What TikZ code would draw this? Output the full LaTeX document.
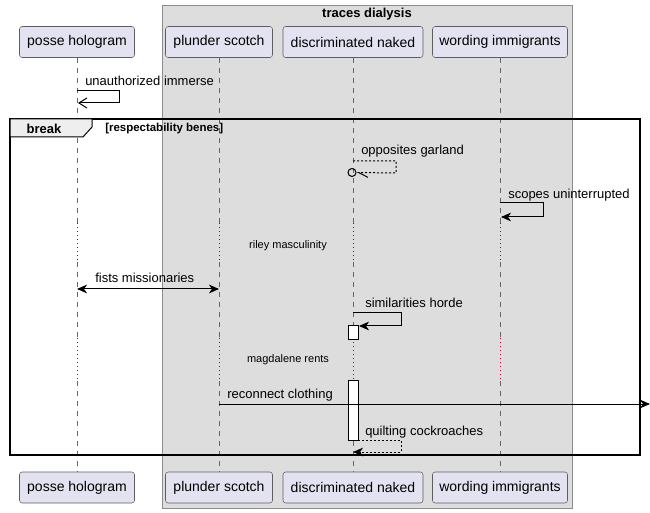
\documentclass[tikz,border=0pt]{standalone}
\usepackage{fontspec}
\setmainfont{Liberation Sans}
\usetikzlibrary{arrows.meta,positioning}
\definecolor{partfill}{HTML}{E2E2F0}
\definecolor{partline}{HTML}{5E5E5E}
\definecolor{boxfill}{HTML}{DDDDDD}
\definecolor{boxline}{HTML}{8C8C8C}
\definecolor{tabfill}{HTML}{EEEEEE}
\definecolor{delayred}{HTML}{A80036}
\definecolor{lifegray}{HTML}{666666}
\tikzset{
	part/.style={draw=partline, fill=partfill, rounded corners=2pt, minimum height=23.25pt, inner sep=0pt, font=\fontsize{10.5}{12}\selectfont},
	lifeline/.style={draw=lifegray, line width=0.6pt, dash pattern=on 3.75pt off 3.75pt},
	delayline/.style={draw=delayred, line width=0.75pt, dash pattern=on 0.8pt off 2.2pt},
	msg/.style={draw=black, line width=0.75pt, -{Stealth[length=7.5pt,width=6.5pt,inset=2.2pt]}},
	bothmsg/.style={draw=black, line width=0.75pt, {Stealth[length=7.5pt,width=6.5pt,inset=2.2pt]}-{Stealth[length=7.5pt,width=6.5pt,inset=2.2pt]}},
	openmsg/.style={draw=black, line width=0.75pt, -{Straight Barb[length=6pt,width=7.5pt]}},
	retmsg/.style={msg, dash pattern=on 1.5pt off 1.5pt},
	msglabel/.style={anchor=base west, inner sep=0pt, font=\fontsize{9.75}{11}\selectfont},
	delaylabel/.style={anchor=center, inner sep=0pt, font=\fontsize{8.25}{10}\selectfont},
	activation/.style={draw=black, fill=white, line width=0.75pt}
}
\begin{document}
\begin{tikzpicture}[x=0.75pt,y=-0.75pt]
	\useasboundingbox (0,0) rectangle (650,513);
	
	%box
	\draw[draw=boxline, fill=boxfill, line width=0.75pt] (162,6) rectangle (572,508);
	\node[font=\bfseries\fontsize{9.75}{11}\selectfont, inner sep=0pt] (boxtitle) at (367,14) {traces dialysis};
	
	%participants
	\foreach \nm/\cx/\bw/\lbl in {posse/77/115/posse hologram, plunder/219/107/plunder scotch, discr/353/140/discriminated naked, wording/500/135/wording immigrants}{
		\node[part, minimum width=\bw*0.75pt] (\nm top) at (\cx,42) {\lbl};
		\node[part, minimum width=\bw*0.75pt] (\nm bot) at (\cx,487.5) {\lbl};
	}
	
	%lifelines
	\foreach \nm in {posse,plunder,discr,wording}{
		\draw[lifeline] (\nm top.south) -- (\nm top.south |- 0,223);
		\draw[delayline] (\nm top.south |- 0,223) -- (\nm top.south |- 0,262);
		\draw[lifeline] (\nm top.south |- 0,262) -- (\nm top.south |- 0,338);
		\draw[delayline] (\nm top.south |- 0,338) -- (\nm top.south |- 0,381);
		\draw[lifeline] (\nm top.south |- 0,381) -- (\nm bot.north);
	}
	
	%unauthorized immerse
	\coordinate (m1a) at (77,91);
	\coordinate (m1b) at (78,103);
	\node[msglabel] (m1lbl) at (85,86) {unauthorized immerse};
	\draw[openmsg] (m1a) -- ++(42,0) -- ++(0,12) -- (m1b);
	
	%break frame
	\draw[line width=1.5pt] (10,119) rectangle (640,455);
	\draw[fill=tabfill, line width=0.75pt] (10,119) -- (92,119) -- (92,127) -- (83,137) -- (10,137) -- cycle;
	\node[font=\bfseries\fontsize{9.75}{11}\selectfont, inner sep=0pt] (brk) at (44,128.5) {break};
	\node[font=\bfseries\fontsize{8.6}{10}\selectfont, anchor=west, inner sep=0pt] (guard) at (105,129) {[respectability benes]};
	
	%opposites garland
	\coordinate (m2a) at (353,161);
	\node[circle, draw, line width=0.75pt, inner sep=0pt, minimum size=6pt] (m2c) at (352,172.5) {};
	\node[msglabel] (m2lbl) at (361,155) {opposites garland};
	\draw[draw=black, line width=0.75pt, dash pattern=on 1.5pt off 1.5pt, -{Straight Barb[left,length=7pt,width=7pt]}] (m2a) -- ++(43,0) -- ++(0,12) -- (m2c.east);
	
	%scopes uninterrupted
	\coordinate (m3a) at (500,203);
	\coordinate (m3b) at (501,217);
	\node[msglabel] (m3lbl) at (508,199) {scopes uninterrupted};
	\draw[msg] (m3a) -- ++(43,0) -- ++(0,14) -- (m3b);
	
	\node[delaylabel] (d1) at (288,246) {riley masculinity};
	
	%fists missionaries
	\coordinate (m4a) at (77,289);
	\coordinate (m4b) at (219,289);
	\node[msglabel] (m4lbl) at (95,283) {fists missionaries};
	\draw[bothmsg] (m4a) -- (m4b);
	
	%similarities horde
	\draw[activation] (348,326) rectangle (358,340);
	\coordinate (m5a) at (353,313);
	\coordinate (m5b) at (359,326);
	\node[msglabel] (m5lbl) at (365,308) {similarities horde};
	\draw[msg] (m5a) -- ++(48,0) -- ++(0,13) -- (m5b);
	
	\node[delaylabel] (d2) at (288,360) {magdalene rents};
	
	%activation 2
	\draw[activation] (348,381) rectangle (358,440);
	\coordinate (act2se) at (358,440);
	
	%reconnect clothing
	\coordinate (m6a) at (219,404);
	\coordinate (m6b) at (650,404);
	\node[msglabel] (m6lbl) at (227,398) {reconnect clothing};
	\draw[msg] (m6a) -- (m6b);
	
	%quilting cockroaches
	\coordinate (m7b) at (353,452);
	\node[msglabel] (m7lbl) at (365,435) {quilting cockroaches};
	\draw[retmsg] (act2se) -- ++(43,0) -- ++(0,12) -- (m7b);
\end{tikzpicture}
\end{document}
